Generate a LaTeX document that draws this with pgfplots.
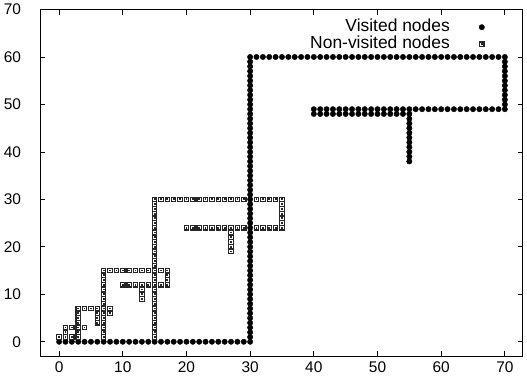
\documentclass[border=0pt]{standalone}
\usepackage{fontspec}
\setmainfont{Liberation Sans}
\usepackage{pgfplots}
\pgfplotsset{compat=1.18}
\pgfdeclareplotmark{nvsq}{%
  \pgfsetlinewidth{1.1bp}%
  \pgfpathrectangle{\pgfpoint{-2.2bp}{-2.2bp}}{\pgfpoint{4.4bp}{4.4bp}}%
  \pgfusepathqstroke
  \pgfpathrectangle{\pgfpoint{-0.9bp}{-0.9bp}}{\pgfpoint{1.8bp}{1.8bp}}%
  \pgfusepathqfill
}
\begin{document}
\begin{tikzpicture}
\useasboundingbox (-40bp,-30bp) rectangle (487bp,356bp);
\begin{axis}[
  at={(0,0)}, anchor=south west,
  scale only axis, width=482.7bp, height=346.5bp,
  xmin=-3, xmax=72.8, ymin=-3, ymax=70,
  xtick={0,10,...,70}, ytick={0,10,...,70},
  tick align=inside, major tick length=5bp,
  axis line style={line width=0.8bp},
  every tick/.style={line width=0.8bp, black},
  /pgf/number format/assume math mode=true,
  tick label style={font=\fontsize{15.5}{18}\selectfont},
  yticklabel style={xshift=-15.5bp},
  xticklabel style={yshift=-2.5bp},
  legend plot pos=right,
  legend cell align=right,
  legend style={at={(rel axis cs:1,1)}, anchor=north east, xshift=-36.7bp, yshift=-9bp,
    draw=none, fill=none, inner sep=0pt, row sep=0pt,
    font=\fontsize{17.5}{19}\selectfont,
    nodes={inner sep=2bp, text height=10.5bp, text depth=2.5bp}},
  legend image code/.code={%
    \path[draw=none,fill=none] (0bp,-2bp) rectangle (34bp,2bp);
    \draw[#1] plot coordinates {(30bp,0bp)};},
]
\addplot[only marks, mark=*, mark size=2.7bp, black] coordinates {
(0,0)(1,0)(2,0)(3,0)(4,0)(5,0)(6,0)(7,0)(8,0)(9,0)(10,0)
(11,0)(12,0)(13,0)(14,0)(15,0)(16,0)(17,0)(18,0)(19,0)(20,0)
(21,0)(22,0)(23,0)(24,0)(25,0)(26,0)(27,0)(28,0)(29,0)(30,0)
(30,1)(30,2)(30,3)(30,4)(30,5)(30,6)(30,7)(30,8)(30,9)(30,10)
(30,11)(30,12)(30,13)(30,14)(30,15)(30,16)(30,17)(30,18)(30,19)(30,20)
(30,21)(30,22)(30,23)(30,24)(30,25)(30,26)(30,27)(30,28)(30,29)(30,30)
(30,31)(30,32)(30,33)(30,34)(30,35)(30,36)(30,37)(30,38)(30,39)(30,40)
(30,41)(30,42)(30,43)(30,44)(30,45)(30,46)(30,47)(30,48)(30,49)(30,50)
(30,51)(30,52)(30,53)(30,54)(30,55)(30,56)(30,57)(30,58)(30,59)(30,60)
(31,60)(32,60)(33,60)(34,60)(35,60)(36,60)(37,60)(38,60)(39,60)(40,60)
(41,60)(42,60)(43,60)(44,60)(45,60)(46,60)(47,60)(48,60)(49,60)(50,60)
(51,60)(52,60)(53,60)(54,60)(55,60)(56,60)(57,60)(58,60)(59,60)(60,60)
(61,60)(62,60)(63,60)(64,60)(65,60)(66,60)(67,60)(68,60)(69,60)(70,60)
(70,49)(70,50)(70,51)(70,52)(70,53)(70,54)(70,55)(70,56)(70,57)(70,58)(70,59)
(40,49)(41,49)(42,49)(43,49)(44,49)(45,49)(46,49)(47,49)(48,49)(49,49)
(50,49)(51,49)(52,49)(53,49)(54,49)(55,49)(56,49)(57,49)(58,49)(59,49)
(60,49)(61,49)(62,49)(63,49)(64,49)(65,49)(66,49)(67,49)(68,49)(69,49)
(40,48)(41,48)(42,48)(43,48)(44,48)(45,48)(46,48)(47,48)(48,48)(49,48)
(50,48)(51,48)(52,48)(53,48)(54,48)(55,48)
(55,38)(55,39)(55,40)(55,41)(55,42)(55,43)(55,44)(55,45)(55,46)(55,47)
};
\addlegendentry{Visited nodes}
\addplot[only marks, mark=nvsq, black!85] coordinates {
(0,1)
(1,1)(1,2)(1,3)
(2,1)(2,3)
(3,1)(3,2)(3,3)(3,4)(3,5)(3,6)(3,7)
(4,3)(4,7)
(5,7)
(6,4)(6,5)(6,6)(6,7)
(7,1)(7,2)(7,3)(7,4)(7,5)(7,6)(7,7)(7,8)(7,9)(7,10)(7,11)(7,12)(7,13)(7,14)(7,15)
(8,6)(8,7)
(8,15)(9,15)(10,15)(11,15)(12,15)(13,15)(14,15)(16,15)(17,15)
(15,1)(15,2)(15,3)(15,4)(15,5)(15,6)(15,7)(15,8)(15,9)(15,10)
(15,11)(15,12)(15,13)(15,14)(15,15)(15,16)(15,17)(15,18)(15,19)(15,20)
(15,21)(15,22)(15,23)(15,24)(15,25)(15,26)(15,27)(15,28)(15,29)(15,30)
(10,12)(11,12)(12,12)(13,12)(14,12)(16,12)(17,12)
(13,9)(13,10)(13,11)
(17,13)(17,14)
(16,30)(17,30)(18,30)(19,30)(20,30)(21,30)(22,30)(23,30)(24,30)(25,30)
(26,30)(27,30)(28,30)(29,30)(31,30)(32,30)(33,30)(34,30)(35,30)
(20,24)(21,24)(22,24)(23,24)(24,24)(25,24)(26,24)(27,24)(28,24)(29,24)
(31,24)(32,24)(33,24)(34,24)(35,24)
(35,25)(35,26)(35,27)(35,28)(35,29)
(27,19)(27,20)(27,21)(27,22)(27,23)
};
\addlegendentry{Non-visited nodes}
\end{axis}
\end{tikzpicture}
\end{document}
